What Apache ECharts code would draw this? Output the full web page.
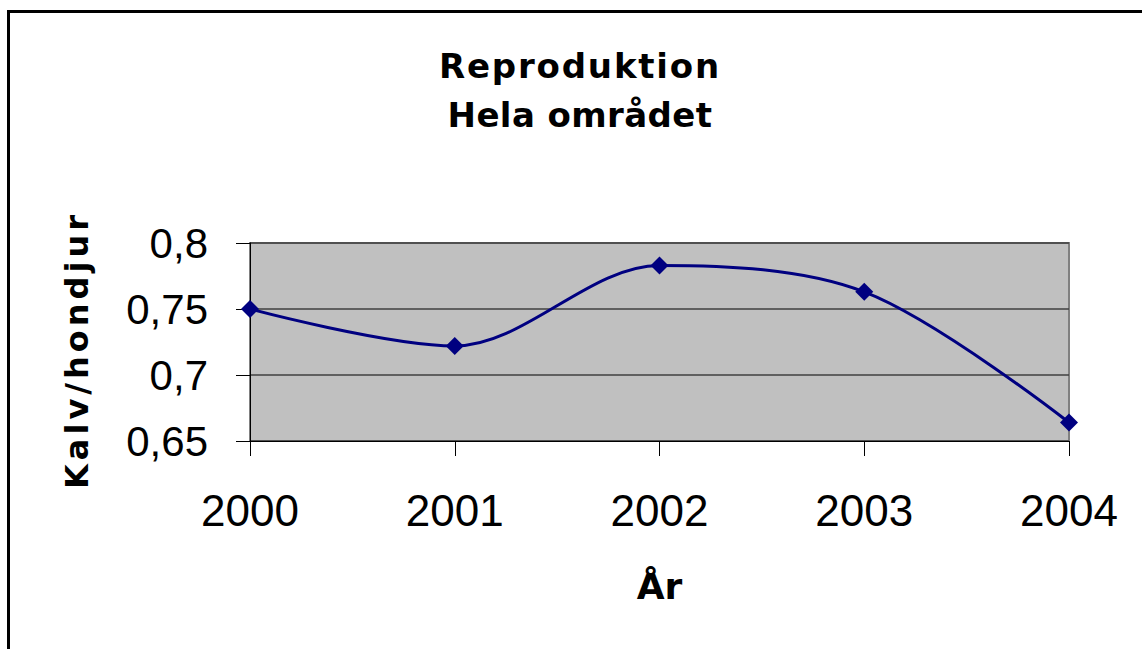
<!DOCTYPE html>
<html>
<head>
<meta charset="utf-8">
<script src="https://cdn.jsdelivr.net/npm/echarts@6/dist/echarts.min.js"></script>
<style>
html,body{margin:0;padding:0;background:#fff;}
#chart{width:1142px;height:649px;}
</style>
</head>
<body>
<div id="chart"></div>
<script>
const years = ['2000', '2001', '2002', '2003', '2004'];
const values = [0.75, 0.722, 0.783, 0.763, 0.664];
const yTicks = { min: 0.65, max: 0.8, interval: 0.05 };
const titleLines = ['Reproduktion', 'Hela området'];
const yName = 'Kalv/hondjur';
const xName = 'År';

const chart = echarts.init(document.getElementById('chart'), null, { renderer: 'svg' });

// Excel draws the bold headings wider than normal; add a little letter spacing.
const spacingByText = {};
spacingByText[titleLines[0]] = '1.8px';
spacingByText[titleLines[1]] = '0.4px';
spacingByText[yName] = '4px';
function applySpacing() {
  document.querySelectorAll('#chart svg text').forEach(function (t) {
    const s = spacingByText[t.textContent];
    if (s) t.style.letterSpacing = s;
  });
}
chart.on('finished', applySpacing);

const boldFont = '"DejaVu Sans", Arial, sans-serif';

chart.setOption({
  backgroundColor: '#ffffff',
  animation: false,
  title: {
    text: titleLines.join('\n'),
    left: 580,
    top: 41,
    textAlign: 'center',
    padding: 0,
    textStyle: {
      fontFamily: boldFont,
      fontWeight: 'bold',
      fontSize: 34,
      lineHeight: 49,
      color: '#000'
    }
  },
  graphic: [{
    type: 'rect',
    shape: { x: 8.5, y: 11.5, width: 1300, height: 800 },
    style: { fill: 'none', stroke: '#000', lineWidth: 3 },
    z: 100
  }],
  grid: {
    left: 250,
    right: 73,
    top: 243,
    bottom: 208,
    show: true,
    backgroundColor: '#c0c0c0',
    borderColor: '#808080',
    borderWidth: 2
  },
  xAxis: {
    type: 'category',
    data: years,
    boundaryGap: false,
    name: xName,
    nameLocation: 'middle',
    nameGap: 127,
    nameTextStyle: { fontFamily: boldFont, fontWeight: 'bold', fontSize: 36, color: '#000' },
    axisLine: { show: true, lineStyle: { color: '#000', width: 1 } },
    axisTick: { show: true, alignWithLabel: true, length: 15, lineStyle: { color: '#000', width: 1 } },
    axisLabel: { fontFamily: 'Arial', fontSize: 44, color: '#000', margin: 47 },
    splitLine: { show: false }
  },
  yAxis: {
    type: 'value',
    min: yTicks.min,
    max: yTicks.max,
    interval: yTicks.interval,
    name: yName,
    nameLocation: 'middle',
    nameRotate: 90,
    nameGap: 157,
    nameTextStyle: { fontFamily: boldFont, fontWeight: 'bold', fontSize: 32, color: '#000', padding: [0, 16, 0, 0] },
    axisLine: { show: true, lineStyle: { color: '#000', width: 1 } },
    axisTick: { show: true, length: 14, lineStyle: { color: '#000', width: 1 } },
    axisLabel: {
      fontFamily: 'Arial',
      fontSize: 42,
      color: '#000',
      margin: 42,
      formatter: function (v) { return String(+v.toFixed(2)).replace('.', ','); }
    },
    splitLine: { show: true, lineStyle: { color: '#404040', width: 1.5 } }
  },
  series: [{
    type: 'line',
    data: values,
    smooth: 0.33,
    symbol: 'diamond',
    symbolSize: 18,
    lineStyle: { color: '#000080', width: 3 },
    itemStyle: { color: '#000080' },
    z: 5
  }]
});
applySpacing();
setTimeout(applySpacing, 50);
</script>
</body>
</html>
